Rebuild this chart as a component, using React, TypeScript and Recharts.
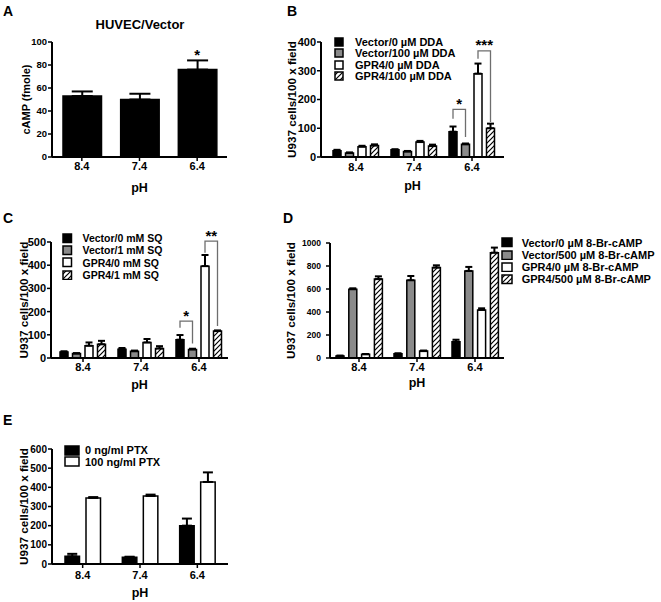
import React from "react";
import {
  BarChart,
  Bar,
  XAxis,
  YAxis,
  ErrorBar,
  Legend,
  LabelList,
  ReferenceDot,
} from "recharts";

const FONT = "Arial, 'Liberation Sans', Helvetica, sans-serif";
const GRAY = "#8a8a8a";

const phLevels = ["8.4", "7.4", "6.4"];

// A - cAMP, HUVEC/Vector
const campMean = [53, 50, 76];
const campErr = [4, 5, 8];
const campStars = ["", "", "*"];
const campTicks = [0, 20, 40, 60, 80, 100];

// B - DDA
const ddaNames = ["Vector/0 µM DDA", "Vector/100 µM DDA", "GPR4/0 µM DDA", "GPR4/100 µM DDA"];
const ddaVec0 = [22, 25, 88];
const ddaVec0Err = [3, 2, 18];
const ddaVec100 = [14, 19, 44];
const ddaVec100Err = [2, 2, 3];
const ddaGpr0 = [36, 52, 290];
const ddaGpr0Err = [3, 4, 35];
const ddaGpr100 = [40, 38, 100];
const ddaGpr100Err = [4, 5, 16];
const ddaTicks = [0, 100, 200, 300, 400];
const ddaBrackets = [
  { group: 2, from: 0, to: 1, top: 166, leftEnd: 133, rightEnd: 70, stars: "*" },
  { group: 2, from: 2, to: 3, top: 369, leftEnd: 342, rightEnd: 122, stars: "***" },
];

// C - SQ
const sqNames = ["Vector/0 mM SQ", "Vector/1 mM SQ", "GPR4/0 mM SQ", "GPR4/1 mM SQ"];
const sqVec0 = [26, 38, 79];
const sqVec0Err = [3, 5, 20];
const sqVec1 = [19, 29, 37];
const sqVec1Err = [2, 3, 3];
const sqGpr0 = [53, 67, 396];
const sqGpr0Err = [14, 15, 48];
const sqGpr1 = [59, 41, 116];
const sqGpr1Err = [15, 10, 3];
const sqTicks = [0, 100, 200, 300, 400, 500];
const sqBrackets = [
  { group: 2, from: 0, to: 1, top: 159, leftEnd: 130, rightEnd: 62, stars: "*" },
  { group: 2, from: 2, to: 3, top: 504, leftEnd: 454, rightEnd: 138, stars: "**" },
];

// D - 8-Br-cAMP
const brNames = [
  "Vector/0 µM 8-Br-cAMP",
  "Vector/500 µM 8-Br-cAMP",
  "GPR4/0 µM 8-Br-cAMP",
  "GPR4/500 µM 8-Br-cAMP",
];
const brVec0 = [18, 36, 142];
const brVec0Err = [3, 5, 17];
const brVec500 = [598, 676, 757];
const brVec500Err = [8, 37, 35];
const brGpr0 = [32, 60, 418];
const brGpr0Err = [3, 5, 14];
const brGpr500 = [686, 786, 916];
const brGpr500Err = [24, 20, 44];
const brTicks = [0, 200, 400, 600, 800, 1000];

// E - PTX
const ptxNames = ["0 ng/ml PTX", "100 ng/ml PTX"];
const ptx0 = [40, 35, 200];
const ptx0Err = [13, 3, 37];
const ptx100 = [345, 355, 428];
const ptx100Err = [4, 7, 50];
const ptxTicks = [0, 100, 200, 300, 400, 500, 600];

type Bracket = {
  group: number;
  from: number;
  to: number;
  top: number;
  leftEnd: number;
  rightEnd: number;
  stars: string;
};

type LegendOpts = {
  left: number;
  top: number;
  boxW: number;
  boxH: number;
  gap: number;
  row: number;
  font: number;
};

interface PanelProps {
  left: number;
  top: number;
  width: number;
  height: number;
  marginTop: number;
  marginRight: number;
  yWidth: number;
  xHeight: number;
  padLeft: number;
  padRight: number;
  names: string[];
  fills: string[];
  means: number[][];
  errs: number[][];
  barSize: number;
  barGap: number;
  capWidth: number;
  yTicks: number[];
  yFont: number;
  yTickMargin?: number;
  yLabel: string;
  yLabelFont?: number;
  yLabelOffset: number;
  tickMargin: number;
  phOffset: number;
  hatchId?: string;
  legend?: LegendOpts;
  brackets?: Bracket[];
  topStars?: string[];
}

const starLabel = (s: string) => ({
  value: s,
  position: "top" as const,
  offset: 0,
  fill: "#000",
  fontSize: 15,
  fontWeight: 700,
});

const makeLegend = (o: LegendOpts, names: string[], fills: string[]) => () => (
  <div style={{ fontFamily: FONT, fontWeight: 700, fontSize: o.font, color: "#000" }}>
    {names.map((name, k) => (
      <div
        key={name}
        style={{ display: "flex", alignItems: "center", height: o.row, whiteSpace: "nowrap" }}
      >
        <svg width={o.boxW + 2} height={o.boxH + 2} style={{ marginRight: o.gap, flexShrink: 0 }}>
          <rect
            x={1}
            y={1}
            width={o.boxW}
            height={o.boxH}
            fill={fills[k]}
            stroke="#000"
            strokeWidth={1.5}
          />
        </svg>
        <span>{name}</span>
      </div>
    ))}
  </div>
);

// significance bracket drawn from the geometry of the "from" bar
const bracketContent = (b: Bracket, step: number) => (props: any) => {
  if (props.index !== b.group) return null;
  const vb = props.viewBox || props;
  const value = Number(props.value);
  if (!vb || !value || !vb.height) return null;
  const perUnit = vb.height / value;
  const base = vb.y + vb.height;
  const py = (v: number) => base - v * perUnit;
  const x1 = vb.x + vb.width / 2;
  const x2 = x1 + (b.to - b.from) * step;
  return (
    <g>
      <path
        d={`M${x1},${py(b.leftEnd)} V${py(b.top)} H${x2} V${py(b.rightEnd)}`}
        fill="none"
        stroke="#6e6e6e"
        strokeWidth={1.3}
      />
      <text
        x={(x1 + x2) / 2}
        y={py(b.top) - 0.5}
        textAnchor="middle"
        fontSize={15}
        fontWeight={700}
        fill="#000"
      >
        {b.stars}
      </text>
    </g>
  );
};

const GroupPanel = (p: PanelProps) => {
  const step = p.barSize + p.barGap;

  const rows = phLevels.map((ph, i) => {
    const row: Record<string, any> = { ph };
    p.means.forEach((m, k) => {
      row[`m${k}`] = m[i];
      row[`e${k}`] = [0, p.errs[k][i]];
    });
    return row;
  });

  return (
    <div style={{ position: "absolute", left: p.left, top: p.top }}>
      <BarChart
        width={p.width}
        height={p.height}
        data={rows}
        margin={{ top: p.marginTop, right: p.marginRight, bottom: 0, left: 0 }}
        barSize={p.barSize}
        barGap={p.barGap}
      >
        {p.hatchId && (
          <defs>
            <pattern id={p.hatchId} patternUnits="userSpaceOnUse" width={5} height={5}>
              <rect width={5} height={5} fill="#fff" />
              <path d="M-1,1 L1,-1 M0,5 L5,0 M4,6 L6,4" stroke="#000" strokeWidth={1.2} />
            </pattern>
          </defs>
        )}
        <XAxis
          dataKey="ph"
          height={p.xHeight}
          padding={{ left: p.padLeft, right: p.padRight }}
          tickSize={4}
          tickMargin={p.tickMargin}
          axisLine={{ stroke: "#000", strokeWidth: 2 }}
          tickLine={{ stroke: "#000", strokeWidth: 1.5 }}
          tick={{ fontSize: 11, fontWeight: 700, fill: "#000" }}
          label={{
            value: "pH",
            position: "insideBottom",
            offset: p.phOffset,
            fill: "#000",
            fontSize: 12.5,
            fontWeight: 700,
          }}
        />
        <YAxis
          domain={[0, p.yTicks[p.yTicks.length - 1]]}
          ticks={p.yTicks}
          interval={0}
          width={p.yWidth}
          tickSize={4}
          tickMargin={p.yTickMargin ?? 1}
          axisLine={{ stroke: "#000", strokeWidth: 2 }}
          tickLine={{ stroke: "#000", strokeWidth: 1.5 }}
          tick={{ fontSize: p.yFont, fontWeight: 700, fill: "#000" }}
          label={{
            value: p.yLabel,
            angle: -90,
            position: "insideLeft",
            offset: p.yLabelOffset,
            fill: "#000",
            fontSize: p.yLabelFont ?? 11.7,
            fontWeight: 700,
            style: { textAnchor: "middle" },
          }}
        />
        {p.legend && (
          <Legend
            layout="vertical"
            align="center"
            verticalAlign="middle"
            wrapperStyle={{ left: p.legend.left, top: p.legend.top, width: "auto" }}
            content={makeLegend(p.legend, p.names, p.fills)}
          />
        )}
        {p.names.map((name, k) => (
          <Bar
            key={name}
            dataKey={`m${k}`}
            name={name}
            fill={p.fills[k]}
            stroke="#000"
            strokeWidth={1.5}
            isAnimationActive={false}
          >
            <ErrorBar
              dataKey={`e${k}`}
              width={p.capWidth}
              stroke="#000"
              strokeWidth={2}
              direction="y"
              isAnimationActive={false}
            />
            {(p.brackets || [])
              .filter((b) => b.from === k)
              .map((b, j) => (
                <LabelList
                  key={`br${k}-${j}`}
                  dataKey={`m${k}`}
                  content={bracketContent(b, step)}
                />
              ))}
          </Bar>
        ))}
        {(p.topStars || []).map((s, i) =>
          s ? (
            <ReferenceDot
              key={`ts${i}`}
              x={phLevels[i]}
              y={p.means[0][i] + p.errs[0][i]}
              r={0}
              fill="none"
              stroke="none"
              ifOverflow="visible"
              label={starLabel(s)}
            />
          ) : null
        )}
      </BarChart>
    </div>
  );
};

const letterStyle: React.CSSProperties = {
  position: "absolute",
  fontSize: 14,
  fontWeight: 700,
  lineHeight: "14px",
};

const App = () => (
  <div
    style={{
      position: "absolute",
      left: 0,
      top: 0,
      width: 661,
      height: 602,
      background: "#fff",
      fontFamily: FONT,
      color: "#000",
    }}
  >
    <GroupPanel
      left={0}
      top={0}
      width={240}
      height={200}
      marginTop={42}
      marginRight={13}
      yWidth={52}
      xHeight={43}
      padLeft={1}
      padRight={1}
      names={["cAMP"]}
      fills={["#000000"]}
      means={[campMean]}
      errs={[campErr]}
      barSize={38.5}
      barGap={0}
      capWidth={10.5}
      yTicks={campTicks}
      yFont={9.5}
      yLabel="cAMP (fmole)"
      yLabelFont={11}
      yLabelOffset={26}
      tickMargin={1}
      phOffset={8}
      topStars={campStars}
    />
    <GroupPanel
      left={270}
      top={0}
      width={245}
      height={200}
      marginTop={42}
      marginRight={11}
      yWidth={51}
      xHeight={43}
      padLeft={6}
      padRight={3}
      names={ddaNames}
      fills={["#000000", GRAY, "#ffffff", "url(#hatch-b)"]}
      means={[ddaVec0, ddaVec100, ddaGpr0, ddaGpr100]}
      errs={[ddaVec0Err, ddaVec100Err, ddaGpr0Err, ddaGpr100Err]}
      barSize={8}
      barGap={4.5}
      capWidth={3.5}
      yTicks={ddaTicks}
      yFont={11}
      yLabel="U937 cells/100 x field"
      yLabelOffset={22}
      tickMargin={2}
      phOffset={10}
      hatchId="hatch-b"
      legend={{ left: 64, top: 36.7, boxW: 8, boxH: 8, gap: 11, row: 11.2, font: 11 }}
      brackets={ddaBrackets}
    />
    <GroupPanel
      left={0}
      top={200}
      width={240}
      height={200}
      marginTop={42}
      marginRight={12}
      yWidth={51}
      xHeight={42}
      padLeft={3}
      padRight={0}
      names={sqNames}
      fills={["#000000", GRAY, "#ffffff", "url(#hatch-c)"]}
      means={[sqVec0, sqVec1, sqGpr0, sqGpr1]}
      errs={[sqVec0Err, sqVec1Err, sqGpr0Err, sqGpr1Err]}
      barSize={8}
      barGap={4.5}
      capWidth={3.5}
      yTicks={sqTicks}
      yFont={11}
      yLabel="U937 cells/100 x field"
      yLabelOffset={24}
      tickMargin={1}
      phOffset={11}
      hatchId="hatch-c"
      legend={{ left: 62, top: 32.2, boxW: 8.5, boxH: 8.5, gap: 10, row: 12.2, font: 10.5 }}
      brackets={sqBrackets}
    />
    <GroupPanel
      left={270}
      top={200}
      width={391}
      height={200}
      marginTop={43}
      marginRight={157}
      yWidth={60}
      xHeight={42}
      padLeft={0}
      padRight={0}
      names={brNames}
      fills={["#000000", GRAY, "#ffffff", "url(#hatch-d)"]}
      means={[brVec0, brVec500, brGpr0, brGpr500]}
      errs={[brVec0Err, brVec500Err, brGpr0Err, brGpr500Err]}
      barSize={8}
      barGap={4.8}
      capWidth={3.5}
      yTicks={brTicks}
      yFont={8.5}
      yTickMargin={5}
      yLabel="U937 cells/100 x field"
      yLabelOffset={21}
      tickMargin={1}
      phOffset={13}
      hatchId="hatch-d"
      legend={{ left: 230.7, top: 36.6, boxW: 10, boxH: 8.5, gap: 9, row: 12.2, font: 11 }}
    />
    <GroupPanel
      left={0}
      top={400}
      width={240}
      height={202}
      marginTop={49}
      marginRight={12}
      yWidth={52}
      xHeight={38}
      padLeft={2}
      padRight={2}
      names={ptxNames}
      fills={["#000000", "#ffffff"]}
      means={[ptx0, ptx100]}
      errs={[ptx0Err, ptx100Err]}
      barSize={14.5}
      barGap={6.5}
      capWidth={5}
      yTicks={ptxTicks}
      yFont={10}
      yLabel="U937 cells/100 x field"
      yLabelOffset={24}
      tickMargin={3}
      phOffset={5}
      legend={{ left: 64, top: 44.2, boxW: 14, boxH: 9, gap: 5, row: 11.7, font: 11 }}
    />
    <div
      style={{
        position: "absolute",
        left: 40,
        top: 18,
        width: 200,
        textAlign: "center",
        fontSize: 13,
        fontWeight: 700,
        lineHeight: "13px",
      }}
    >
      HUVEC/Vector
    </div>
    <div style={{ ...letterStyle, left: 3, top: 4 }}>A</div>
    <div style={{ ...letterStyle, left: 287, top: 4 }}>B</div>
    <div style={{ ...letterStyle, left: 3, top: 211 }}>C</div>
    <div style={{ ...letterStyle, left: 283, top: 211 }}>D</div>
    <div style={{ ...letterStyle, left: 3, top: 413 }}>E</div>
  </div>
);

export default App;
